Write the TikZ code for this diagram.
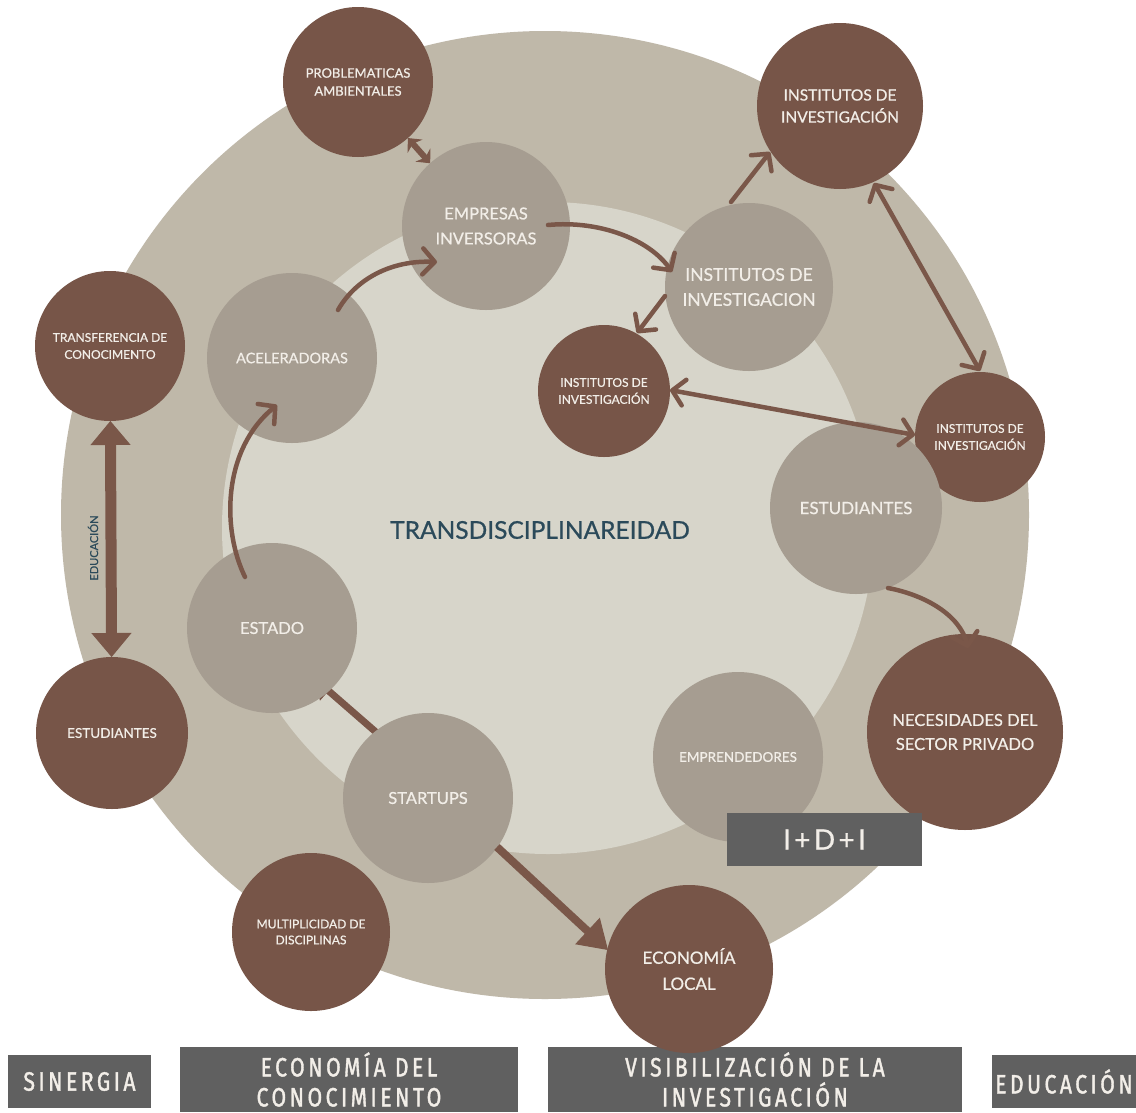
\documentclass[tikz,border=0pt]{standalone}
\usepackage{fontspec}
\setmainfont{Lato}[FakeBold=0.7]
\newfontfamily\condfont[FakeStretch=0.8,LetterSpace=13,FakeBold=1.4]{Fira Sans}
\newfontfamily\idifont[LetterSpace=12,FakeBold=0.8]{Lato}
\usetikzlibrary{arrows.meta,calc}
\definecolor{outerC}{HTML}{BFB8A9}
\definecolor{innerC}{HTML}{D7D5CA}
\definecolor{midC}{HTML}{A69D91}
\definecolor{brownC}{HTML}{775548}
\definecolor{arrowC}{HTML}{7A5749}
\definecolor{txtC}{HTML}{F2EEE8}
\definecolor{tealC}{HTML}{2B4A5A}
\definecolor{boxC}{HTML}{606060}
\pgfdeclarelayer{back}
\pgfdeclarelayer{under}
\pgfdeclarelayer{over}
\pgfsetlayers{back,under,main,over}
\begin{document}
\begin{tikzpicture}[x=1pt,y=-1pt,
  midnode/.style={circle,fill=midC,inner sep=0pt,outer sep=0pt,text=txtC,align=center},
  brnode/.style={circle,fill=brownC,inner sep=0pt,outer sep=0pt,text=txtC,align=center},
  gbox/.style={rectangle,fill=boxC,inner sep=0pt,outer sep=0pt,text=txtC,align=center},
  fs/.style n args={2}{font=\fontsize{#1}{#2}\selectfont},
  cfs/.style={font=\condfont\fontsize{26.5}{30}\selectfont},
  conn/.style={draw=arrowC,line width=4.5pt,line cap=round,-{Straight Barb[length=12pt,width=26pt,round]}},
  dconn/.style={draw=arrowC,line width=4.5pt,line cap=round,{Straight Barb[length=12pt,width=26pt,round]}-{Straight Barb[length=12pt,width=26pt,round]}},
]
\begin{pgfonlayer}{back}
\fill[white] (0,0) rectangle (1136,1112);
\fill[outerC] (545,515) circle[radius=484pt];
\fill[innerC] (548,528) circle[radius=326pt];
\end{pgfonlayer}
\useasboundingbox (0,0) rectangle (1136,1112);

\node[brnode,minimum size=150pt,fs={13}{18}] (prob) at (358,82) {PROBLEMATICAS\\AMBIENTALES};
\node[midnode,minimum size=168pt,fs={16.5}{25}] (emp) at (486,226) {EMPRESAS\\INVERSORAS};
\node[brnode,minimum size=166pt,fs={15.5}{22}] (itop) at (840,106) {INSTITUTOS DE\\INVESTIGACIÓN};
\node[midnode,minimum size=168pt,fs={17.5}{25}] (imed) at (749,287) {INSTITUTOS DE\\INVESTIGACION};
\node[brnode,minimum size=132pt,fs={12}{17}] (imid) at (604,391) {INSTITUTOS DE\\INVESTIGACIÓN};
\node[brnode,minimum size=130pt,fs={12}{17}] (iright) at (980,437) {INSTITUTOS DE\\INVESTIGACIÓN};
\node[midnode,minimum size=172pt,fs={17}{25}] (estm) at (856,508) {ESTUDIANTES};
\node[brnode,minimum size=150pt,fs={12}{17}] (trans) at (110,346) {TRANSFERENCIA DE\\CONOCIMENTO};
\node[brnode,minimum size=152pt,fs={13.5}{18}] (estl) at (112,733) {ESTUDIANTES};
\node[midnode,minimum size=170pt,fs={14.5}{20}] (acel) at (292,358) {ACELERADORAS};
\node[midnode,minimum size=170pt,fs={16.5}{22}] (estado) at (272,628) {ESTADO};
\node[midnode,minimum size=170pt,fs={16.5}{22}] (startups) at (428,798) {STARTUPS};
\node[brnode,minimum size=196pt,fs={16.5}{24}] (nec) at (965,732) {NECESIDADES DEL\\SECTOR PRIVADO};
\node[midnode,minimum size=170pt,fs={13.5}{20}] (empr) at (738,757) {EMPRENDEDORES};
\node[gbox,minimum width=195pt,minimum height=53pt,font=\idifont\fontsize{28}{30}\selectfont] (idi) at (824.5,839.5) {I+D+I};
\node[brnode,minimum size=158pt,fs={12}{16}] (multi) at (311,932) {MULTIPLICIDAD DE\\DISCIPLINAS};
\node[gbox,minimum width=414pt,minimum height=65pt,cfs] (vis) at (755,1079.5) {VISIBILIZACIÓN DE LA\\INVESTIGACIÓN};
\node[brnode,minimum size=168pt,fs={17}{26}] (econ) at (689,969) {ECONOMÍA\\LOCAL};
\node[gbox,minimum width=143pt,minimum height=53pt,cfs] (sin) at (79.5,1081.5) {SINERGIA};
\node[gbox,minimum width=338pt,minimum height=65pt,cfs] (ecb) at (349,1079.5) {ECONOMÍA DEL\\CONOCIMIENTO};
\node[gbox,minimum width=144pt,minimum height=53pt,cfs] (edb) at (1064,1081.5) {EDUCACIÓN};
\node[text=tealC,fs={24.5}{28}] (tdr) at (540,530) {TRANSDISCIPLINAREIDAD};
\node[text=tealC,rotate=90,fs={11}{13}] (edu) at (93,548) {EDUCACIÓN};

\begin{pgfonlayer}{under}
\draw[draw=arrowC,line width=7pt,-{Triangle[length=18pt,width=26pt,line width=1pt]}] ($(startups)+(-51,-65)$) -- ($(estado)+(43,51)$);
\end{pgfonlayer}

\begin{pgfonlayer}{over}
\draw[draw=arrowC,line width=6pt,{Stealth[length=11pt,width=20pt,line width=1pt]}-{Stealth[length=11pt,width=20pt,line width=1pt]}] (prob) -- (emp);
\draw[conn] ($(estado)+(-27,-51)$) .. controls ($(estado)+(-50,-98)$) and ($(acel)+(-70,92)$) .. ($(acel)+(-15,47)$);
\draw[conn] ($(acel)+(46,-48)$) .. controls ($(acel)+(63,-78)$) and ($(emp)+(-96,34)$) .. ($(emp)+(-49,36)$);
\draw[conn] ($(emp)+(62,-1)$) .. controls ($(emp)+(114,-6)$) and ($(imed)+(-99,-47)$) .. ($(imed)+(-77,-15)$);
\draw[conn] ($(imed)+(-18,-85)$) -- ($(itop)+(-70,46)$);
\draw[conn] ($(imed)+(-84,9)$) -- ($(imid)+(33,-58)$);
\draw[dconn] ($(itop)+(34,77)$) -- ($(iright)+(0,-66)$);
\draw[dconn] ($(imid)+(66,-1)$) -- ($(iright)+(-65,-2)$);
\draw[conn] ($(estm)+(32,80)$) .. controls ($(estm)+(69,87)$) and ($(nec)+(-5,-117)$) .. ($(nec)+(3,-84)$);
\draw[draw=arrowC,line width=11pt,{Triangle[length=24pt,width=40pt,line width=1pt]}-{Triangle[length=24pt,width=40pt,line width=1pt]}] (trans) -- (estl);
\draw[draw=arrowC,line width=8pt,-{Triangle[length=28pt,width=36pt,line width=1pt]}] ($(startups)+(69,49)$) -- ($(econ)+(-81,-19)$);
\end{pgfonlayer}
\end{tikzpicture}
\end{document}
